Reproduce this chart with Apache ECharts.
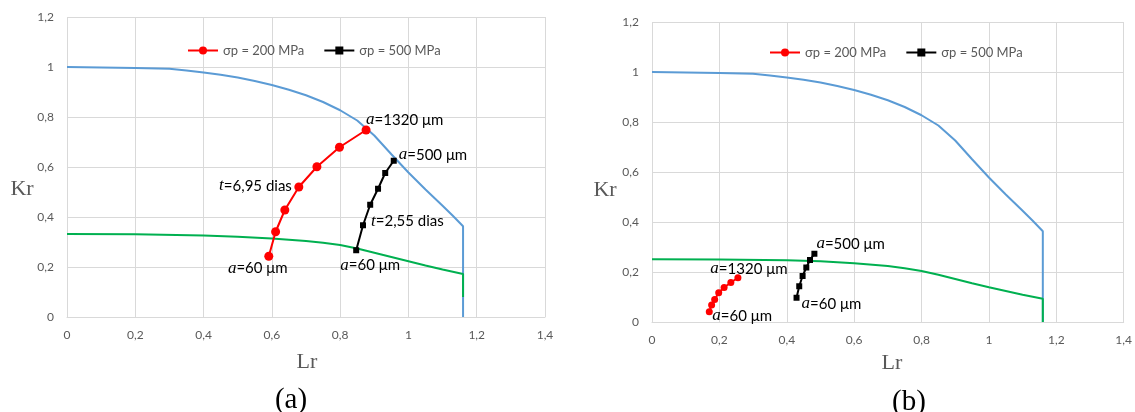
<!DOCTYPE html>
<html>
<head>
<meta charset="utf-8">
<script src="https://cdn.jsdelivr.net/npm/echarts@6/dist/echarts.min.js"></script>
<style>
  html, body { margin: 0; padding: 0; background: #fff; }
  #chart { width: 1135px; height: 412px; }
</style>
</head>
<body>
<div id="chart"></div>
<script>
// FAD curve (same in both panels)
const blueLr = [0, 0.1, 0.2, 0.3, 0.35, 0.4, 0.45, 0.5, 0.55, 0.6, 0.65, 0.7, 0.75, 0.8, 0.85, 0.9, 0.95, 1.0, 1.05, 1.1, 1.13, 1.16, 1.16];
const blueKr = [1.0, 0.998, 0.996, 0.993, 0.986, 0.978, 0.969, 0.958, 0.944, 0.928, 0.909, 0.887, 0.860, 0.827, 0.786, 0.726, 0.651, 0.578, 0.510, 0.445, 0.405, 0.363, 0];

// lower curve, panel (a)
const greenALr = [0, 0.2, 0.4, 0.5, 0.6, 0.7, 0.75, 0.8, 0.85, 0.9, 0.95, 1.0, 1.05, 1.1, 1.16, 1.16];
const greenAKr = [0.332, 0.331, 0.326, 0.321, 0.314, 0.304, 0.297, 0.288, 0.274, 0.257, 0.240, 0.223, 0.206, 0.190, 0.172, 0.08];

// lower curve, panel (b)
const greenBLr = [0, 0.2, 0.4, 0.5, 0.6, 0.7, 0.75, 0.8, 0.85, 0.9, 0.95, 1.0, 1.05, 1.1, 1.16, 1.16];
const greenBKr = [0.251, 0.250, 0.247, 0.243, 0.235, 0.224, 0.215, 0.204, 0.189, 0.172, 0.155, 0.139, 0.124, 0.109, 0.093, 0];

// crack growth paths, panel (a)
const redALr = [0.591, 0.611, 0.638, 0.679, 0.732, 0.798, 0.876];
const redAKr = [0.243, 0.341, 0.428, 0.520, 0.601, 0.679, 0.748];
const blackALr = [0.847, 0.867, 0.888, 0.911, 0.932, 0.957];
const blackAKr = [0.267, 0.367, 0.449, 0.513, 0.576, 0.625];

// crack growth paths, panel (b)
const redBLr = [0.170, 0.177, 0.186, 0.198, 0.214, 0.234, 0.255];
const redBKr = [0.041, 0.068, 0.090, 0.117, 0.138, 0.158, 0.177];
const blackBLr = [0.429, 0.437, 0.447, 0.458, 0.469, 0.482];
const blackBKr = [0.097, 0.143, 0.184, 0.218, 0.248, 0.273];

const name200 = 'σp = 200 MPa';
const name500 = 'σp = 500 MPa';

const zip = (xs, ys) => xs.map((x, i) => [x, ys[i]]);

// annotation text per point: [point index, text, align, offset]
const notesRedA = [[0, '{i|a}{n|=60 μm}', 'center', [-11, 12]], [3, '{i|t}{n|=6,95 dias}', 'right', [-7, -1]], [6, '{i|a}{n|=1320 μm}', 'left', [0, -10]]];
const notesBlackA = [[0, '{i|a}{n|=60 μm}', 'center', [14, 15]], [1, '{i|t}{n|=2,55 dias}', 'left', [8, -4]], [5, '{i|a}{n|=500 μm}', 'left', [5, -6]]];
const notesRedB = [[0, '{i|a}{n|=60 μm}', 'left', [3, 4]], [6, '{i|a}{n|=1320 μm}', 'center', [11, -9]]];
const notesBlackB = [[0, '{i|a}{n|=60 μm}', 'left', [5, 6]], [5, '{i|a}{n|=500 μm}', 'left', [2, -10]]];

const rich = {
  i: { fontFamily: 'Liberation Serif', fontStyle: 'italic', fontSize: 17, color: '#000' },
  n: { fontFamily: 'Lato', fontSize: 15, color: '#000' }
};

function withNotes(points, notes) {
  const data = points.map(p => ({ value: p }));
  notes.forEach(([idx, text, align, offset]) => {
    data[idx].label = {
      show: true, position: 'inside', formatter: text, align: align,
      verticalAlign: 'middle', offset: offset, rich: rich
    };
  });
  return data;
}

const gridLine = { show: true, lineStyle: { color: '#d9d9d9', width: 1 } };
const tickFmt = v => String(+v.toFixed(1)).replace('.', ',');
const axisLabel = { color: '#595959', fontFamily: 'Lato', fontSize: 12, formatter: tickFmt };

function xAxis(idx) {
  return {
    type: 'value', gridIndex: idx, min: 0, max: 1.4, interval: 0.2,
    axisLine: { show: true, lineStyle: { color: '#d9d9d9' } },
    axisTick: { show: false }, splitLine: gridLine,
    axisLabel: Object.assign({ margin: 12 }, axisLabel)
  };
}
function yAxis(idx) {
  return {
    type: 'value', gridIndex: idx, min: 0, max: 1.2, interval: 0.2,
    axisLine: { show: false }, axisTick: { show: false }, splitLine: gridLine,
    axisLabel: Object.assign({ margin: 13 }, axisLabel)
  };
}

function curve(idx, points, color, z) {
  return {
    type: 'line', xAxisIndex: idx, yAxisIndex: idx, data: points, symbol: 'none',
    lineStyle: { color: color, width: 2 }, z: z, silent: true
  };
}
function path(idx, name, data, color, symbol, size) {
  return {
    type: 'line', name: name, xAxisIndex: idx, yAxisIndex: idx, data: data,
    symbol: symbol, symbolSize: size, showAllSymbol: true,
    itemStyle: { color: color }, lineStyle: { color: color, width: 2 }, z: 5
  };
}

function legend(left, top) {
  return {
    left: left, top: top, data: [name200, name500], itemWidth: 30, itemHeight: 10, itemGap: 19,
    textStyle: { color: '#595959', fontFamily: 'Lato', fontSize: 13 }
  };
}

function titleText(x, y, text, size, color) {
  return {
    type: 'text', x: x, y: y,
    style: { text: text, fill: color, font: size + 'px "Liberation Serif"', textAlign: 'center', textVerticalAlign: 'middle' }
  };
}

const chart = echarts.init(document.getElementById('chart'));
chart.setOption({
  animation: false,
  backgroundColor: '#fff',
  grid: [
    { left: 67, top: 17, width: 478, height: 300 },
    { left: 652, top: 22, width: 474, height: 300 }
  ],
  xAxis: [xAxis(0), xAxis(1)],
  yAxis: [yAxis(0), yAxis(1)],
  legend: [legend(182, 39), legend(764, 41)],
  graphic: [
    titleText(22, 189, 'Kr', 22, '#595959'),
    titleText(307, 362, 'Lr', 22, '#595959'),
    titleText(291, 400, '(a)', 29, '#000'),
    titleText(605, 190, 'Kr', 22, '#595959'),
    titleText(892, 363, 'Lr', 22, '#595959'),
    titleText(909, 402, '(b)', 29, '#000')
  ],
  series: [
    curve(0, zip(blueLr, blueKr), '#5b9bd5', 2),
    curve(0, zip(greenALr, greenAKr), '#00b050', 3),
    path(0, name200, withNotes(zip(redALr, redAKr), notesRedA), '#ff0000', 'circle', 9),
    path(0, name500, withNotes(zip(blackALr, blackAKr), notesBlackA), '#000000', 'rect', 6),
    curve(1, zip(blueLr, blueKr), '#5b9bd5', 2),
    curve(1, zip(greenBLr, greenBKr), '#00b050', 3),
    path(1, name200, withNotes(zip(redBLr, redBKr), notesRedB), '#ff0000', 'circle', 7),
    path(1, name500, withNotes(zip(blackBLr, blackBKr), notesBlackB), '#000000', 'rect', 6)
  ]
});
</script>
</body>
</html>
